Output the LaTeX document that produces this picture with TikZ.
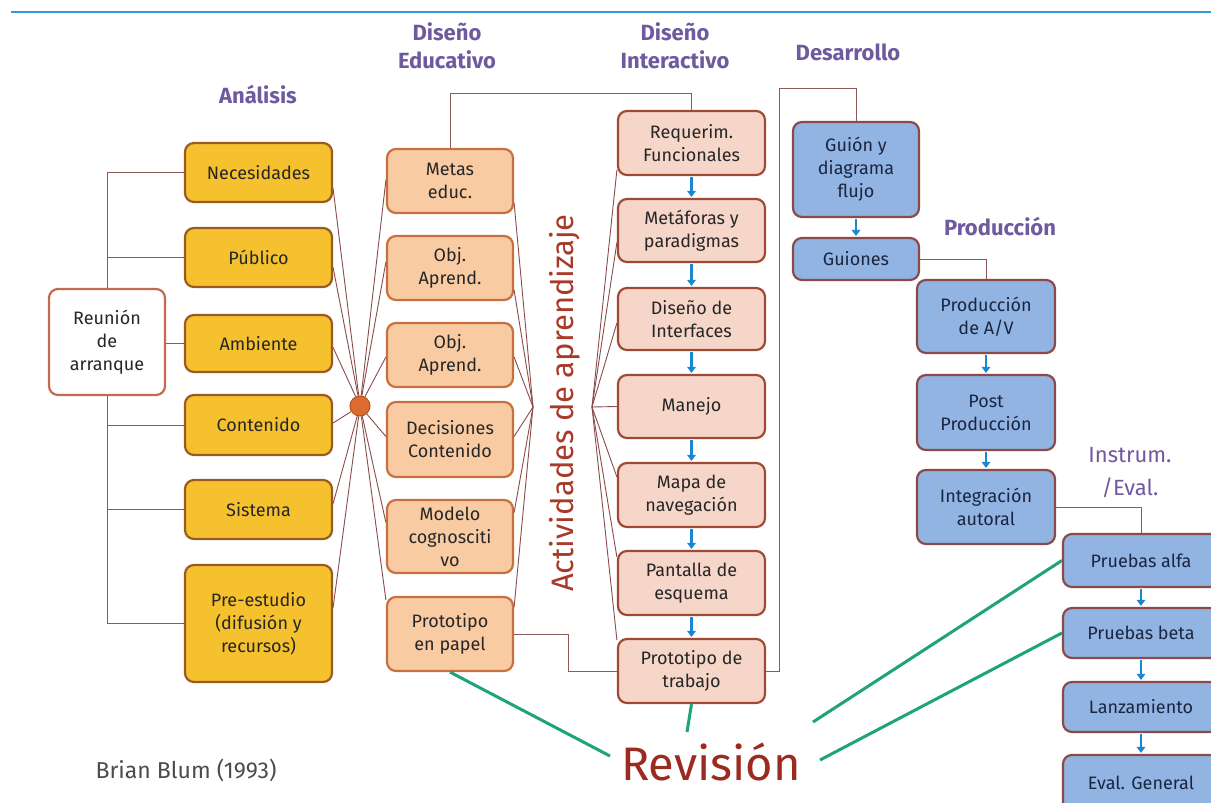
\documentclass[tikz,border=0pt]{standalone}
\usepackage{fontspec}
\setmainfont{Fira Sans}
\usetikzlibrary{arrows.meta,calc}
\definecolor{ylwfill}{HTML}{F6C12E}
\definecolor{ylwdraw}{HTML}{9A5B22}
\definecolor{reudraw}{HTML}{C46A4F}
\definecolor{edufill}{HTML}{F9CBA3}
\definecolor{edudraw}{HTML}{C8713F}
\definecolor{intfill}{HTML}{F6D6C8}
\definecolor{intdraw}{HTML}{A04A35}
\definecolor{blufill}{HTML}{92B4E3}
\definecolor{bludraw}{HTML}{8B4A4A}
\definecolor{conncol}{HTML}{8C5A5A}
\definecolor{fancol}{HTML}{8C4A4A}
\definecolor{greencol}{HTML}{1FA37A}
\definecolor{headcol}{HTML}{6E5A9E}
\definecolor{actcol}{HTML}{A83A2A}
\definecolor{revcol}{HTML}{9B2B20}
\definecolor{arrcol}{HTML}{1A88D0}
\definecolor{topcol}{HTML}{3399DD}
\definecolor{hubfill}{HTML}{DD6A2E}
\definecolor{hubdraw}{HTML}{B5501F}
\definecolor{txtcol}{HTML}{262626}
\definecolor{blutxt}{HTML}{1A2540}
\tikzset{
  boxbase/.style={rounded corners=9pt, line width=2.2pt, align=center, inner sep=2pt,
    font=\fontsize{18}{23}\selectfont, text=txtcol},
  ybox/.style={boxbase, fill=ylwfill, draw=ylwdraw, minimum width=147pt},
  rbox/.style={boxbase, fill=white, draw=reudraw},
  ebox/.style={boxbase, fill=edufill, draw=edudraw, minimum width=126pt},
  ibox/.style={boxbase, fill=intfill, draw=intdraw, minimum width=147pt},
  bbox/.style={boxbase, fill=blufill, draw=bludraw, text=blutxt},
  conn/.style={draw=conncol, line width=1pt},
  fan/.style={draw=fancol, line width=0.9pt},
  glink/.style={draw=greencol, line width=3pt},
  barrow/.style={draw=arrcol, line width=2.6pt, -{Triangle[width=8.5pt,length=6pt]}, shorten <=1pt, shorten >=1pt},
  heading/.style={text=headcol, font=\bfseries\fontsize{22}{28}\selectfont, align=center},
}
\begin{document}
\begin{tikzpicture}[x=1pt,y=-1pt]
\useasboundingbox (0,0) rectangle (1211,803);
\clip (0,0) rectangle (1211,803);
\fill[white] (0,0) rectangle (1211,803);
\draw[topcol, line width=1.5pt] (11,12) -- (1211,12);

% headings
\node[heading] (hAna) at (258,95) {Análisis};
\node[heading] (hEdu) at (447,46) {Diseño\\Educativo};
\node[heading] (hInt) at (675,46) {Diseño\\Interactivo};
\node[heading] (hDes) at (848,52) {Desarrollo};
\node[heading] (hPro) at (1000,227) {Producción};
\node[heading, font=\fontsize{22}{33}\selectfont] (hIns) at (1130,473) {Instrum.\\/Eval.};

% Analisis column
\node[ybox, minimum height=59pt] (nec) at (258.5,172.5) {Necesidades};
\node[ybox, minimum height=59pt] (pub) at (258.5,257.5) {Público};
\node[ybox, minimum height=57pt] (amb) at (258.5,343.5) {Ambiente};
\node[ybox, minimum height=60pt] (con) at (258.5,425) {Contenido};
\node[ybox, minimum height=59pt] (sis) at (258.5,509.5) {Sistema};
\node[ybox, minimum height=117pt] (pre) at (258.5,623.5) {Pre-estudio\\(difusión y\\recursos)};
\node[rbox, minimum width=116pt, minimum height=106pt] (reu) at (107,342) {Reunión\\de\\arranque};

% tree from Reunion
\draw[conn] (nec.west) -- (nec.west -| reu.north) -- (reu.north);
\draw[conn] (pub.west) -- (pub.west -| reu.north);
\draw[conn] (reu.east |- amb.west) -- (amb.west);
\draw[conn] (reu.south) -- (pre.west -| reu.south) -- (pre.west);
\draw[conn] (con.west) -- (con.west -| reu.south);
\draw[conn] (sis.west) -- (sis.west -| reu.south);

% Diseno educativo column
\node[ebox, minimum height=64pt] (metas) at (450,181) {Metas\\educ.};
\node[ebox, minimum height=64pt] (obja) at (450,268) {Obj.\\Aprend.};
\node[ebox, minimum height=64pt] (objb) at (450,355) {Obj.\\Aprend.};
\node[ebox, minimum height=75pt] (dec) at (450,439.5) {Decisiones\\Contenido};
\node[ebox, minimum height=73pt] (mod) at (450,536.5) {Modelo\\cognosciti\\vo};
\node[ebox, minimum height=74pt] (ppap) at (450,634) {Prototipo\\en papel};

% Diseno interactivo column
\node[ibox, minimum height=64pt] (req) at (691.5,143) {Requerim.\\Funcionales};
\node[ibox, minimum height=63pt] (met) at (691.5,230.5) {Metáforas y\\paradigmas};
\node[ibox, minimum height=62pt] (dis) at (691.5,319) {Diseño de\\Interfaces};
\node[ibox, minimum height=63pt] (man) at (691.5,406.5) {Manejo};
\node[ibox, minimum height=64pt] (map) at (691.5,495) {Mapa de\\navegación};
\node[ibox, minimum height=64pt] (pan) at (691.5,583) {Pantalla de\\esquema};
\node[ibox, minimum height=64pt] (ptra) at (691.5,671) {Prototipo de\\trabajo};

% Desarrollo
\node[bbox, minimum width=126pt, minimum height=95pt] (gui) at (856,169.5) {Guión y\\diagrama\\flujo};
\node[bbox, minimum width=126pt, minimum height=42pt] (guis) at (856,259) {Guiones};

% Produccion
\node[bbox, minimum width=138pt, minimum height=73pt] (pav) at (986,316.5) {Producción\\de A/V};
\node[bbox, minimum width=138pt, minimum height=75pt] (post) at (986,412.5) {Post\\Producción};
\node[bbox, minimum width=138pt, minimum height=74pt] (integ) at (986,507) {Integración\\autoral};

% Instrum / Eval
\node[bbox, minimum width=156pt, minimum height=53pt] (alfa) at (1141,560.5) {Pruebas alfa};
\node[bbox, minimum width=156pt, minimum height=50pt] (beta) at (1141,633) {Pruebas beta};
\node[bbox, minimum width=156pt, minimum height=50pt] (lanz) at (1141,707) {Lanzamiento};
\node[bbox, minimum width=156pt, minimum height=56pt] (eval) at (1141,783) {Eval. General};

% hub and fan points
\coordinate (f2) at (533,407);
\coordinate (f3) at (592,407);
\node[circle, fill=hubfill, draw=hubdraw, line width=1pt, minimum size=20pt, inner sep=0pt] (hub) at (360,406) {};

% fan from hub
\draw[fan] (hub) -- ($(nec.east)+(0,16)$);
\draw[fan] (hub) -- ($(pub.east)+(0,10)$);
\draw[fan] (hub) -- ($(amb.east)+(0,4)$);
\draw[fan] (hub) -- ($(con.east)+(0,-2)$);
\draw[fan] (hub) -- ($(sis.east)+(0,-6)$);
\draw[fan] (hub) -- ($(pre.east)+(0,-16)$);
\draw[fan] (hub) -- ($(metas.west)+(0,-1)$);
\draw[fan] (hub) -- ($(obja.west)+(0,-6)$);
\draw[fan] (hub) -- ($(objb.west)+(0,2)$);
\draw[fan] (hub) -- ($(dec.west)+(0,-3)$);
\draw[fan] (hub) -- ($(mod.west)+(0,-14)$);
\draw[fan] (hub) -- ($(ppap.west)+(0,-34)$);

% fan into f2
\draw[fan] ($(metas.east)+(0,22)$) -- (f2);
\draw[fan] ($(obja.east)+(0,22)$) -- (f2);
\draw[fan] ($(objb.east)+(0,2)$) -- (f2);
\draw[fan] ($(dec.east)+(0,-3)$) -- (f2);
\draw[fan] ($(mod.east)+(0,-24)$) -- (f2);
\draw[fan] ($(ppap.east)+(0,-27)$) -- (f2);

% fan from f3
\draw[fan] (f3) -- ($(req.west)+(0,27)$);
\draw[fan] (f3) -- ($(met.west)+(0,12)$);
\draw[fan] (f3) -- ($(dis.west)+(0,4)$);
\draw[fan] (f3) -- (man.west);
\draw[fan] (f3) -- ($(map.west)+(0,-18)$);
\draw[fan] (f3) -- ($(pan.west)+(0,-26)$);
\draw[fan] (f3) -- ($(ptra.west)+(0,-31)$);

% vertical label
\node[rotate=90, text=actcol, font=\fontsize{31}{34}\selectfont] (act) at (565,403) {Actividades de aprendizaje};

% blue arrows
\draw[barrow] (req.south) -- (met.north);
\draw[barrow] (met.south) -- (dis.north);
\draw[barrow] (dis.south) -- (man.north);
\draw[barrow] (man.south) -- (map.north);
\draw[barrow] (map.south) -- (pan.north);
\draw[barrow] (pan.south) -- (ptra.north);
\draw[barrow] (gui.south) -- (guis.north);
\draw[barrow] (pav.south) -- (post.north);
\draw[barrow] (post.south) -- (integ.north);
\draw[barrow] (alfa.south) -- (beta.north);
\draw[barrow] (beta.south) -- (lanz.north);
\draw[barrow] (lanz.south) -- (eval.north);

% connectors between phases
\coordinate (topA) at (0,93);
\coordinate (topB) at (0,88);
\draw[conn] (metas.north) -- (metas.north |- topA) -| (req.north);
\draw[conn] (ppap.east) -- ++(54,0) |- (ptra.west);
\draw[conn] (ptra.east) -- ++(13,0) |- (topB -| gui.north) -- (gui.north);
\draw[conn] (guis.east) -| (pav.north);
\draw[conn] (integ.east) -| (alfa.north);

% Revision
\node[text=revcol, font=\fontsize{47}{50}\selectfont] (rev) at (711,762) {Revisión};
\coordinate (g1) at (610,756);
\coordinate (g2) at (687,732);
\coordinate (g3) at (813,722);
\coordinate (g4) at (820,760);
\draw[glink] (ppap.south) -- (g1);
\draw[glink] (ptra.south) -- (g2);
\draw[glink] (g3) -- (alfa.west);
\draw[glink] (g4) -- (beta.west);

% credit
\node[text=black!70, font=\fontsize{23}{26}\selectfont] (cred) at (186,770) {Brian Blum (1993)};
\end{tikzpicture}
\end{document}
